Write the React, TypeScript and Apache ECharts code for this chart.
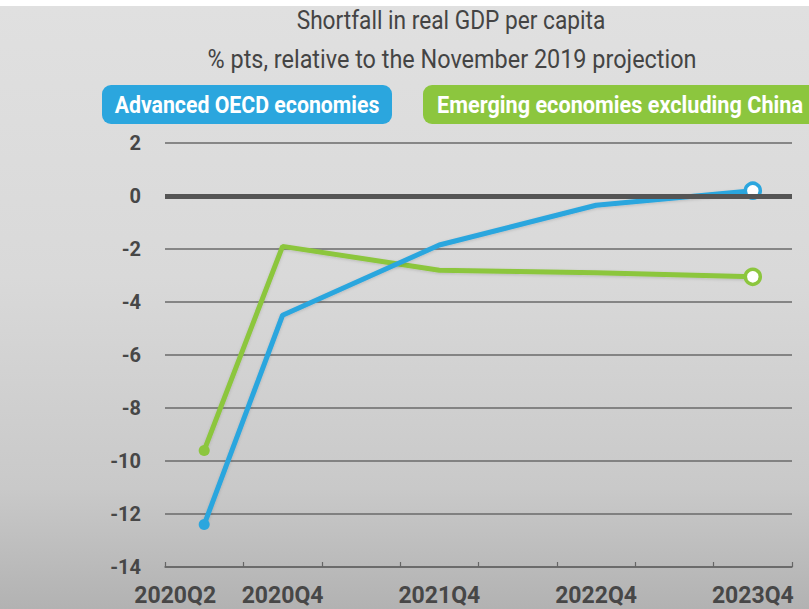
import React, { useEffect, useRef } from "react";
import * as echarts from "echarts";

const TITLE = "Shortfall in real GDP per capita";
const SUBTITLE = "% pts, relative to the November 2019 projection";
const SERIES_NAMES = ["Advanced OECD economies", "Emerging economies excluding China"];
const CATEGORIES = ["2020Q2", "2020Q4", "2021Q2", "2021Q4", "2022Q2", "2022Q4", "2023Q2", "2023Q4"];
const SHOWN_LABELS = ["2020Q2", "2020Q4", "2021Q4", "2022Q4", "2023Q4"];
const ADVANCED = [-12.4, -4.5, null, -1.85, null, -0.35, null, 0.2];
const EMERGING = [-9.6, -1.9, null, -2.8, null, -2.9, null, -3.05];
const Y_MIN = -14;
const Y_MAX = 2;
const Y_STEP = 2;

const BLUE = "#2ba6de";
const GREEN = "#8cc63e";
const FONT = "Roboto, 'Liberation Sans', sans-serif";

function buildData(values: (number | null)[], color: string) {
  const last = values.length - 1;
  return values.map((v, i) => {
    if (v === null) return null;
    if (i === 0) return { value: v, symbol: "circle", symbolSize: 11, itemStyle: { color, borderWidth: 0 } };
    if (i === last)
      return { value: v, symbol: "circle", symbolSize: 15, itemStyle: { color: "#ffffff", borderColor: color, borderWidth: 3.5 } };
    return { value: v, symbol: "none" };
  });
}

function fitScale(text: string, font: string, target: number) {
  const c = document.createElement("canvas").getContext("2d");
  if (!c) return 1;
  c.font = font;
  const w = c.measureText(text).width;
  return w > 0 ? target / w : 1;
}

function condensedText(text: string, font: string, cx: number, cy: number, width: number, fill: string) {
  const s = fitScale(text, font, width);
  return {
    type: "text",
    x: cx,
    y: cy,
    scaleX: s,
    silent: true,
    style: { text, font, fill, align: "center", verticalAlign: "middle" },
  };
}

export default function App() {
  const ref = useRef<HTMLDivElement>(null);
  useEffect(() => {
    if (!ref.current) return;
    const chart = echarts.init(ref.current, undefined, { renderer: "svg" });
    const titleFont = `400 25px ${FONT}`;
    const legendFont = `700 24px ${FONT}`;
    const option: any = {
      animation: false,
      backgroundColor: "#ffffff",
      textStyle: { fontFamily: FONT },
      graphic: [
        {
          type: "rect",
          z: -10,
          silent: true,
          shape: { x: 0, y: 6, width: 809, height: 603 },
          style: {
            fill: new echarts.graphic.LinearGradient(0, 0, 0, 1, [
              { offset: 0, color: "#e0e0e0" },
              { offset: 0.45, color: "#d9d9d9" },
              { offset: 0.8, color: "#c9c9c9" },
              { offset: 1, color: "#b2b2b2" },
            ]),
          },
        },
        condensedText(TITLE, titleFont, 451, 21, 309, "#444444"),
        condensedText(SUBTITLE, titleFont, 452, 60, 489, "#444444"),
        {
          type: "rect",
          silent: true,
          shape: { x: 102, y: 85, width: 290, height: 39, r: 9 },
          style: { fill: BLUE },
        },
        condensedText(SERIES_NAMES[0], legendFont, 247, 105, 265, "#ffffff"),
        {
          type: "rect",
          silent: true,
          shape: { x: 423, y: 85, width: 420, height: 39, r: 9 },
          style: { fill: GREEN },
        },
        condensedText(SERIES_NAMES[1], legendFont, 620, 105, 366, "#ffffff"),
      ],
      grid: { left: 165, right: 17, top: 143, bottom: 42 },
      xAxis: {
        type: "category",
        boundaryGap: true,
        data: CATEGORIES.map((c, i) =>
          i === 0 ? { value: c, textStyle: { padding: [0, 58, 0, 0] } } : c
        ),
        axisLine: { show: true, onZero: false, lineStyle: { color: "#666666", width: 1.5 } },
        axisTick: { show: true, inside: true, length: 5, lineStyle: { color: "#666666", width: 1.2 } },
        axisLabel: {
          interval: 0,
          margin: 17,
          fontSize: 23,
          fontWeight: 700,
          color: "#474747",
          fontFamily: FONT,
          formatter: (v: string) => (SHOWN_LABELS.includes(v) ? v : ""),
        },
        splitLine: { show: false },
      },
      yAxis: {
        type: "value",
        min: Y_MIN,
        max: Y_MAX,
        interval: Y_STEP,
        axisLine: { show: false },
        axisTick: { show: false },
        axisLabel: { margin: 24, fontSize: 20, fontWeight: 700, color: "#474747", fontFamily: FONT },
        splitLine: { show: true, lineStyle: { color: "#6a6a6a", width: 1.5 } },
      },
      series: [
        {
          type: "line",
          name: "zero",
          data: [],
          z: 1,
          silent: true,
          markLine: {
            silent: true,
            symbol: "none",
            label: { show: false },
            lineStyle: { color: "#555555", width: 5, type: "solid" },
            data: [{ yAxis: 0 }],
          },
        },
        {
          type: "line",
          name: SERIES_NAMES[1],
          z: 3,
          connectNulls: true,
          showSymbol: true,
          symbol: "none",
          lineStyle: { color: GREEN, width: 5, shadowColor: "rgba(0,0,0,0.15)", shadowBlur: 3, shadowOffsetY: 1 },
          itemStyle: { color: GREEN },
          data: buildData(EMERGING, GREEN),
        },
        {
          type: "line",
          name: SERIES_NAMES[0],
          z: 4,
          connectNulls: true,
          showSymbol: true,
          symbol: "none",
          lineStyle: { color: BLUE, width: 5, shadowColor: "rgba(0,0,0,0.15)", shadowBlur: 3, shadowOffsetY: 1 },
          itemStyle: { color: BLUE },
          data: buildData(ADVANCED, BLUE),
        },
      ],
    };
    chart.setOption(option);
    return () => chart.dispose();
  }, []);
  return (
    <div
      ref={ref}
      style={{ position: "fixed", left: 0, top: 0, width: 809, height: 609 }}
    />
  );
}
